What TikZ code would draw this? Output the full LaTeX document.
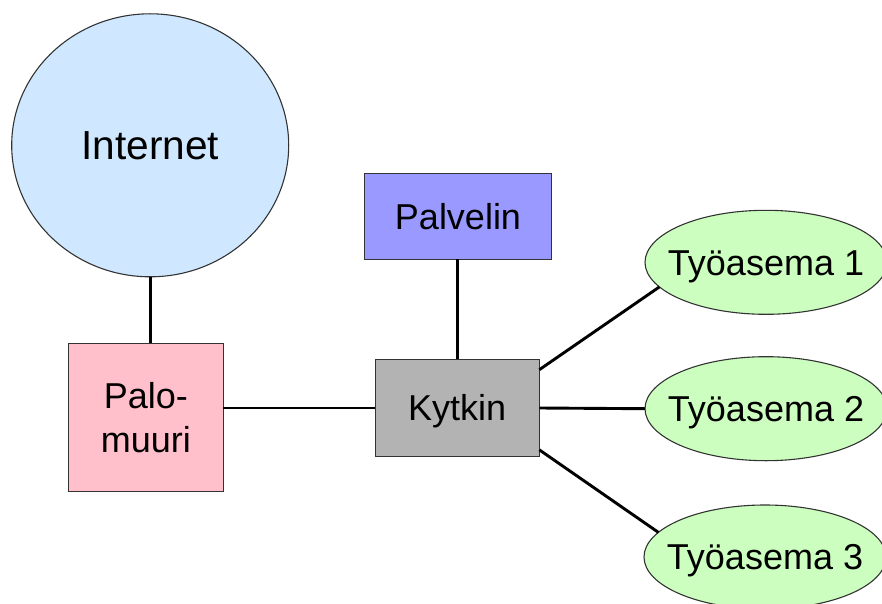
\documentclass[tikz,border=0pt]{standalone}
\usepackage{fontspec}
\setmainfont{Liberation Sans}
\usetikzlibrary{shapes.geometric}
\definecolor{netblue}{HTML}{CFE8FF}
\definecolor{fwpink}{HTML}{FFC0CB}
\definecolor{srvblue}{HTML}{9999FF}
\definecolor{swgray}{HTML}{B3B3B3}
\definecolor{wsgreen}{HTML}{CCFFBF}
\definecolor{edgegray}{HTML}{333333}
\tikzset{
  shapebase/.style={draw=edgegray, line width=1.1pt, inner sep=0pt, outer sep=0pt,
    font=\fontsize{36}{43.7}\selectfont},
  boxnode/.style={shapebase, rectangle},
  wsnode/.style={shapebase, ellipse, fill=wsgreen, minimum width=242pt, minimum height=104pt,
    inner xsep=-30pt, text height=25.8pt, text depth=0pt},
  link/.style={line width=2.9pt, black}
}
\begin{document}
\begin{tikzpicture}[x=1pt,y=-1pt]
\useasboundingbox (0,0) rectangle (882,604);
\node[shapebase, ellipse, fill=netblue, minimum width=277pt, minimum height=263pt,
  font=\fontsize{40.6}{48}\selectfont, text height=29pt, text depth=0pt] (inet) at (150.2,145.3) {Internet};
\node[boxnode, fill=fwpink, minimum width=155pt, minimum height=148.4pt, align=center] (fw) at (145.8,417.5) {Palo-\\muuri};
\node[boxnode, fill=swgray, minimum width=164.3pt, minimum height=97.4pt, text height=25.8pt, text depth=0pt] (sw) at (457.2,408) {Kytkin};
\node[boxnode, fill=srvblue, minimum width=187.4pt, minimum height=85.7pt, text height=25.8pt, text depth=0pt] (srv) at (458,216.2) {Palvelin};
\node[wsnode] (ws1) at (766,262.3) {Työasema 1};
\node[wsnode] (ws2) at (766,408.7) {Työasema 2};
\node[wsnode] (ws3) at (765,557) {Työasema 3};
\draw[link] (inet.south) -- (inet.south |- fw.north);
\draw[link] (sw.west) -- (sw.west -| fw.east);
\draw[link] (sw.north) -- (sw.north |- srv.south);
\draw[link] (sw.25.6) -- (ws1.193);
\draw[link] (sw.east) -- (ws2.west);
\draw[link] (sw.333.1) -- (ws3.167.4);
\end{tikzpicture}
\end{document}
